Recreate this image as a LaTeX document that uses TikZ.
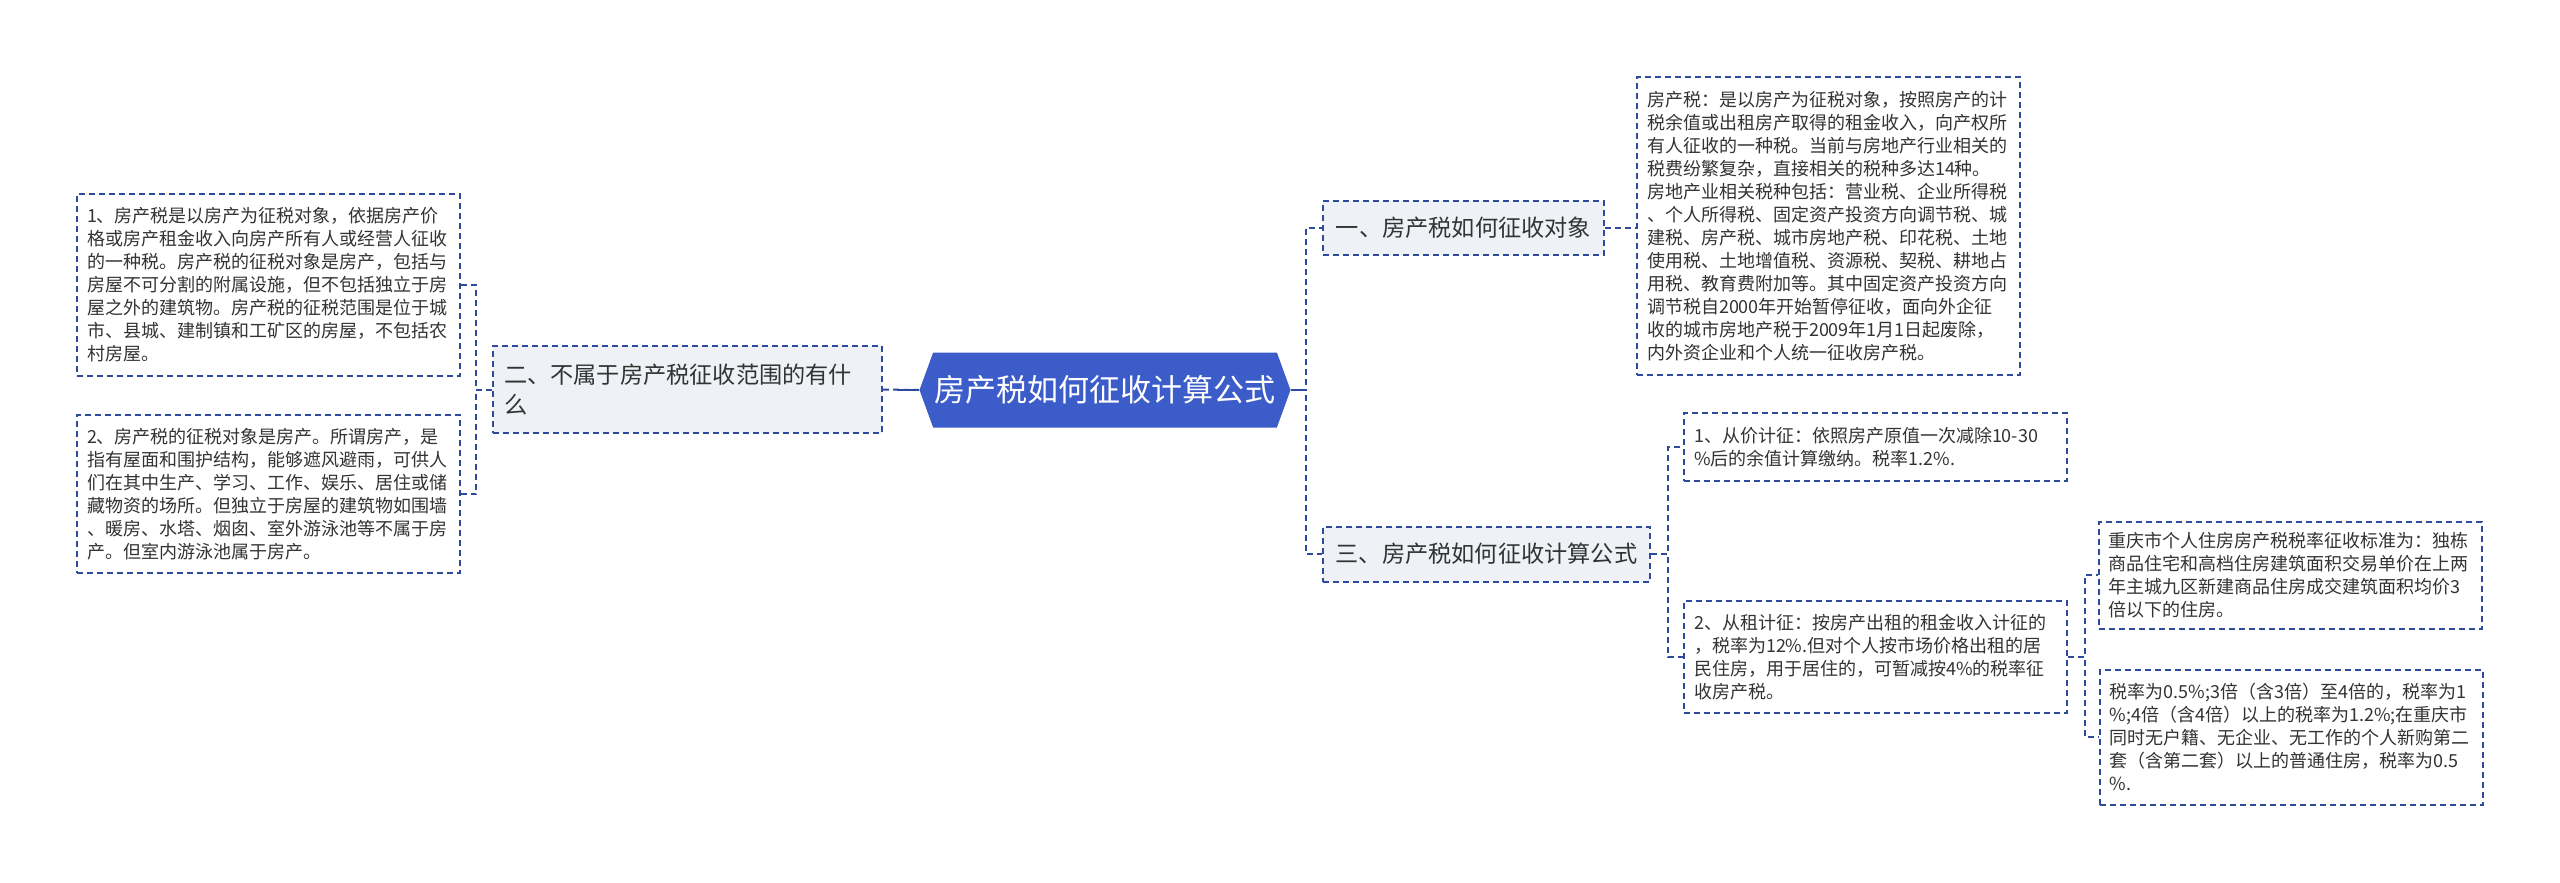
\documentclass[tikz,border=0pt]{standalone}
\usepackage{fontspec}
\setmainfont{Noto Sans CJK SC}
\usepackage{xcolor}
\usepackage{tikz}
\usetikzlibrary{shapes.symbols}
\setlength{\parindent}{0pt}
\definecolor{rootblue}{HTML}{3C5CC9}
\definecolor{linkblue}{HTML}{2E4A9E}
\definecolor{branchgray}{HTML}{EEF1F5}
\definecolor{txtgray}{HTML}{333333}

\begin{document}
\begin{tikzpicture}[x=0.5pt, y=-0.5pt,
    link/.style={draw=linkblue, line width=1pt, dash pattern=on 3pt off 2pt},
    stub/.style={draw=linkblue, line width=1.2pt},
    rootnode/.style={signal, signal to=east and west, signal pointer angle=140,
      fill=rootblue, text=white, font=\fontsize{15.5pt}{18pt}\selectfont,
      minimum width=185.5pt, minimum height=37.5pt, inner sep=0pt},
    branch/.style={link, fill=branchgray, text=txtgray,
      font=\fontsize{11.6pt}{15pt}\selectfont, inner xsep=5.5pt},
    leaf/.style={link, fill=white, text=txtgray,
      font=\fontsize{9pt}{11.5pt}\selectfont, text width=181.5pt,
      align=left, inner xsep=5pt}]
      \useasboundingbox (0,0) rectangle (2560,883);

      \node[rootnode] (root) at (1105,390) {房产税如何征收计算公式};

      \node[branch, text width=183.5pt, align=left, minimum height=43.5pt] (b2) at (687.5,389.5)
        {二、不属于房产税征收范围的有什\\么};
      \node[branch, minimum width=140.5pt, minimum height=27pt] (b1) at (1463.5,228)
        {一、房产税如何征收对象};
      \node[branch, minimum width=163.5pt, minimum height=27.5pt] (b3) at (1486.5,554)
        {三、房产税如何征收计算公式};

      \node[leaf, minimum height=91pt] (l1) at (268.5,285)
        {1、房产税是以房产为征税对象，依据房产价\\
         格或房产租金收入向房产所有人或经营人征收\\
         的一种税。房产税的征税对象是房产，包括与\\
         房屋不可分割的附属设施，但不包括独立于房\\
         屋之外的建筑物。房产税的征税范围是位于城\\
         市、县城、建制镇和工矿区的房屋，不包括农\\
         村房屋。};
      \node[leaf, minimum height=79pt] (l2) at (268.5,494)
        {2、房产税的征税对象是房产。所谓房产，是\\
         指有屋面和围护结构，能够遮风避雨，可供人\\
         们在其中生产、学习、工作、娱乐、居住或储\\
         藏物资的场所。但独立于房屋的建筑物如围墙\\
         、暖房、水塔、烟囱、室外游泳池等不属于房\\
         产。但室内游泳池属于房产。};

      \node[leaf, minimum height=149pt] (r1) at (1828.5,226)
        {房产税：是以房产为征税对象，按照房产的计\\
         税余值或出租房产取得的租金收入，向产权所\\
         有人征收的一种税。当前与房地产行业相关的\\
         税费纷繁复杂，直接相关的税种多达14种。\\
         房地产业相关税种包括：营业税、企业所得税\\
         、个人所得税、固定资产投资方向调节税、城\\
         建税、房产税、城市房地产税、印花税、土地\\
         使用税、土地增值税、资源税、契税、耕地占\\
         用税、教育费附加等。其中固定资产投资方向\\
         调节税自2000年开始暂停征收，面向外企征\\
         收的城市房地产税于2009年1月1日起废除，\\
         内外资企业和个人统一征收房产税。};

      \node[leaf, minimum height=34pt] (ra) at (1875.5,447)
        {1、从价计征：依照房产原值一次减除10-30\\
         \%后的余值计算缴纳。税率1.2\%.};
      \node[leaf, minimum height=56pt] (rb) at (1875.5,657)
        {2、从租计征：按房产出租的租金收入计征的\\
         ，税率为12\%.但对个人按市场价格出租的居\\
         民住房，用于居住的，可暂减按4\%的税率征\\
         收房产税。};

      \node[leaf, minimum height=53.5pt] (c1) at (2290,575)
        {重庆市个人住房房产税税率征收标准为：独栋\\
         商品住宅和高档住房建筑面积交易单价在上两\\
         年主城九区新建商品住房成交建筑面积均价3\\
         倍以下的住房。};
      \node[leaf, minimum height=67.5pt] (c2) at (2291,737)
        {税率为0.5\%;3倍（含3倍）至4倍的，税率为1\\
         \%;4倍（含4倍）以上的税率为1.2\%;在重庆市\\
         同时无户籍、无企业、无工作的个人新购第二\\
         套（含第二套）以上的普通住房，税率为0.5\\
         \%.};

      \draw[link] (root.west) -- (b2.east);
      \draw[stub] (root.west) -- ++(-22,0);
      \draw[link] (root.east) -- ++(15,0) |- (b1.west);
      \draw[link] (root.east) -- ++(15,0) |- (b3.west);
      \draw[stub] (root.east) -- ++(15,0);
      \draw[link] (b2.west) -- ++(-16,0) |- (l1.east);
      \draw[link] (b2.west) -- ++(-16,0) |- (l2.east);
      \draw[link] (b1.east) -- (b1.east -| r1.west);
      \draw[link] (b3.east) -- ++(17,0) |- (ra.west);
      \draw[link] (b3.east) -- ++(17,0) |- (rb.west);
      \draw[link] (rb.east) -- ++(17,0) |- (c1.west);
      \draw[link] (rb.east) -- ++(17,0) |- (c2.west);
    \end{tikzpicture}
\end{document}
